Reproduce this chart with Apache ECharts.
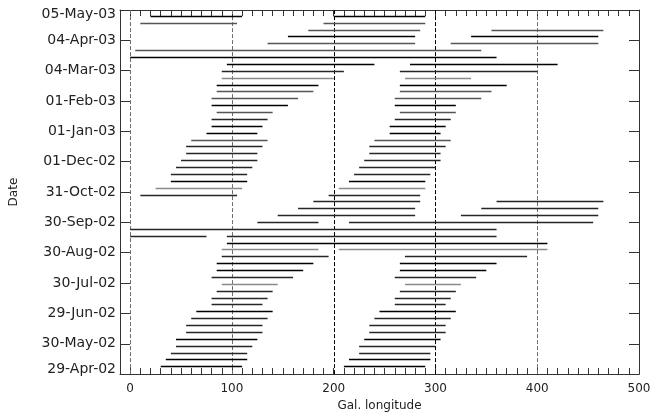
<!DOCTYPE html>
<html>
<head>
<meta charset="utf-8">
<script src="https://cdn.jsdelivr.net/npm/echarts@6/dist/echarts.min.js"></script>
<style>
html,body{margin:0;padding:0;background:#fff;}
#chart{width:664px;height:417px;}
</style>
</head>
<body>
<div id="chart"></div>
<script>
// ---- data ----
const startDate = '2002-04-29';
const tickLabels = ['29-Apr-02','30-May-02','29-Jun-02','30-Jul-02','30-Aug-02','30-Sep-02',
  '31-Oct-02','01-Dec-02','01-Jan-03','01-Feb-03','04-Mar-03','04-Apr-03','05-May-03'];
const endDate = '2003-05-05';

const rowDates = ['2002-05-07','2002-05-14','2002-05-21','2002-05-28','2002-06-04','2002-06-11',
  '2002-06-18','2002-06-25','2002-07-02','2002-07-09','2002-07-16','2002-07-23','2002-07-30',
  '2002-08-06','2002-08-13','2002-08-20','2002-08-27','2002-09-03','2002-09-10','2002-09-17',
  '2002-09-24','2002-10-01','2002-10-08','2002-10-15','2002-10-22','2002-10-29','2002-11-05',
  '2002-11-12','2002-11-19','2002-11-26','2002-12-03','2002-12-10','2002-12-17','2002-12-24',
  '2002-12-31','2003-01-07','2003-01-14','2003-01-21','2003-01-28','2003-02-04','2003-02-11',
  '2003-02-18','2003-02-25','2003-03-04','2003-03-11','2003-03-18','2003-03-25','2003-04-01',
  '2003-04-08','2003-04-15','2003-04-22','2003-04-29'];

const firstFrom  = [30,35,40,45,45,55,55,60,65,80,80,85,90,80,85,85,90,90,95,0,0,125,145,165,180,10,25,40,40,45,50,55,55,60,75,80,80,85,80,80,85,85,90,90,95,0,5,135,155,175,10,20];
const firstTo    = [110,115,115,120,125,130,130,135,140,130,135,140,145,160,170,180,195,185,410,75,360,185,280,280,285,105,110,115,115,120,125,125,130,135,125,130,135,140,155,165,180,185,200,210,240,360,345,280,280,285,105,110];
const secondFrom = [210,215,225,225,230,235,235,240,245,260,260,265,270,260,265,265,270,205,null,95,null,215,325,345,360,195,205,215,220,225,230,235,235,240,255,255,260,265,260,260,265,265,270,265,275,null,null,315,335,355,190,200];
const secondTo   = [290,295,295,300,305,310,310,315,320,310,315,320,325,340,350,360,390,410,null,360,null,455,460,460,465,285,290,290,295,300,305,305,310,315,305,310,315,320,320,345,355,370,335,400,420,null,null,460,460,465,290,290];

const guideLongitudes = [0,100,200,300,400];

// ---- styles ----
const rowShade = 'kkddkdddkdddldkkdlkdddddddlkdddddgkkdgkggkldkkggkggkk';
const shadeColor = {k:'#000000', d:'#262626', g:'#555555', l:'#8a8a8a'};
const guideColor = ['#6e6e6e','#6e6e6e','#000000','#000000','#6e6e6e'];

// ---- build ----
const DAY = 86400000;
const span = (Date.parse(endDate) - Date.parse(startDate)) / DAY;
const nTicks = tickLabels.length - 1;
function toY(d){ return (Date.parse(d) - Date.parse(startDate)) / DAY * nTicks / span; }

const segData = [];
rowDates.forEach(function(d, i){
  const y = toY(d);
  segData.push([firstFrom[i], firstTo[i], y, i]);
  if (secondFrom[i] !== null) segData.push([secondFrom[i], secondTo[i], y, i]);
});
const guideData = guideLongitudes.map(function(v, i){ return [v, i]; });

const chart = echarts.init(document.getElementById('chart'), null, {renderer:'canvas'});
const font = 'DejaVu Sans';
const axisCol = '#333';
const txtCol = '#222';

chart.setOption({
  animation:false,
  backgroundColor:'#fff',
  grid:{left:117, right:25, top:10, bottom:35, containLabel:false},
  xAxis:[{
    type:'value', min:-10, max:500, interval:10, position:'bottom',
    axisLine:{show:true, onZero:false, lineStyle:{color:axisCol, width:1}},
    axisTick:{show:true, inside:true, length:6, lineStyle:{color:axisCol}},
    splitLine:{show:false},
    axisLabel:{margin:9, fontFamily:font, fontSize:12, color:txtCol,
      formatter:function(v){ return (v % 100 === 0 && v >= 0) ? String(v) : ''; }},
    name:'Gal. longitude', nameLocation:'middle', nameGap:25,
    nameTextStyle:{fontFamily:font, fontSize:12, color:txtCol}
  },{
    type:'value', min:-10, max:500, interval:10, position:'top',
    axisLine:{show:true, onZero:false, lineStyle:{color:axisCol, width:1}},
    axisTick:{show:true, inside:true, length:6, lineStyle:{color:axisCol}},
    splitLine:{show:false}, axisLabel:{show:false}
  }],
  yAxis:[{
    type:'value', min:0, max:nTicks, interval:1, position:'left',
    axisLine:{show:true, onZero:false, lineStyle:{color:axisCol, width:1}},
    axisTick:{show:true, inside:true, length:10, lineStyle:{color:axisCol}},
    splitLine:{show:false},
    axisLabel:{margin:4, fontFamily:font, fontSize:14, color:txtCol,
      formatter:function(v){
        const i = Math.round(v);
        if (i === 0) return '{lo|' + tickLabels[i] + '}';
        if (i === nTicks) return '{hi|' + tickLabels[i] + '}';
        return tickLabels[i];
      },
      rich:{
        lo:{fontFamily:font, fontSize:14, color:txtCol, padding:[0,0,10,0]},
        hi:{fontFamily:font, fontSize:14, color:txtCol, padding:[8,0,0,0]}
      }},
    name:'Date', nameLocation:'middle', nameGap:100, nameRotate:90,
    nameTextStyle:{fontFamily:font, fontSize:12, color:txtCol}
  },{
    type:'value', min:0, max:nTicks, interval:1, position:'right',
    axisLine:{show:true, onZero:false, lineStyle:{color:axisCol, width:1}},
    axisTick:{show:true, inside:true, length:10, lineStyle:{color:axisCol}},
    splitLine:{show:false}, axisLabel:{show:false}
  }],
  series:[{
    type:'custom', name:'guides', xAxisIndex:0, yAxisIndex:0, silent:true,
    data:guideData,
    encode:{x:0},
    renderItem:function(params, api){
      const v = api.value(0);
      const p1 = api.coord([v, 0]);
      const p2 = api.coord([v, nTicks]);
      const x = Math.round(p1[0]) + 0.5;
      return {type:'line', shape:{x1:x, y1:p1[1], x2:x, y2:p2[1]},
        style:{stroke:guideColor[api.value(1)], lineWidth:1, lineDash:[4,2]}};
    }
  },{
    type:'custom', name:'coverage', xAxisIndex:0, yAxisIndex:0, silent:true,
    data:segData,
    encode:{x:[0,1], y:2},
    renderItem:function(params, api){
      const y = api.value(2);
      const p1 = api.coord([api.value(0), y]);
      const p2 = api.coord([api.value(1), y]);
      const yy = Math.round(p1[1]) + 0.5;
      const shade = rowShade.charAt(api.value(3));
      return {type:'line', shape:{x1:p1[0], y1:yy, x2:p2[0], y2:yy},
        style:{stroke:shadeColor[shade], lineWidth:1.4}};
    }
  }]
});
</script>
</body>
</html>
